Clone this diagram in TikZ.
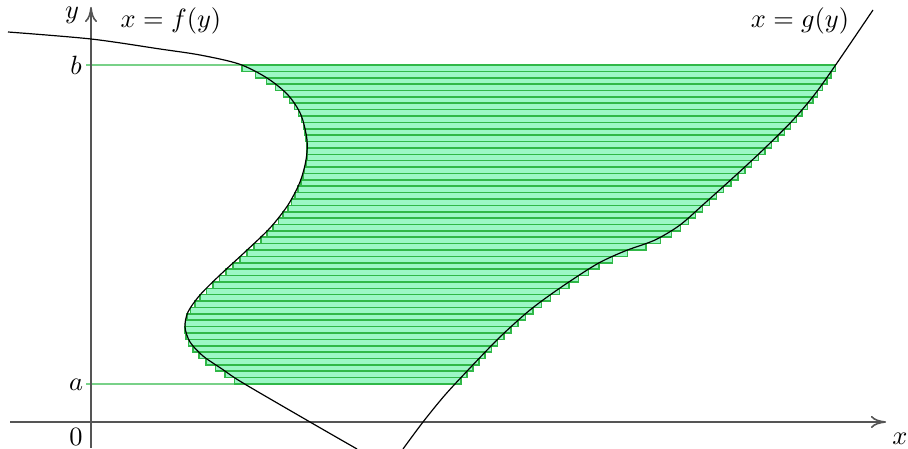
\documentclass[tikz,border=0pt]{standalone}
\usepackage{tikz}
\usetikzlibrary{arrows.meta, intersections, calc, backgrounds}
\definecolor{stripfill}{HTML}{9CF7C6}
\definecolor{stripline}{HTML}{30B848}
\definecolor{axisgray}{HTML}{555555}
\tikzset{
  axis/.style={draw=axisgray, line width=0.6pt, -{To[length=2mm, width=1.6mm]}},
  curve/.style={draw=black, line width=0.45pt},
  strip/.style={draw=stripline, fill=stripfill, line width=0.6pt},
  level/.style={draw=stripline, line width=0.5pt},
}

\begin{document}
\begin{tikzpicture}[x=0.0133cm, y=-0.0133cm]
  \useasboundingbox (0,0) rectangle (908,449);

  % axes
  \coordinate (xstart) at (10,422);
  \coordinate (xend) at (886,422);
  \coordinate (ystart) at (91,448);
  \coordinate (yend) at (91,7);
  \draw[axis] (xstart) -- (xend);
  \draw[axis] (ystart) -- (yend);

  % the two boundary curves
  \draw[curve, name path=fcurve] plot[smooth] coordinates {(8,32) (91,39) (160,49) (200,55) (239,64) (267,78) (288,95) (301,115) (307,140) (306,160) (300,182) (288,205) (270,228) (245,252) (220,275) (200,295) (188,312) (185,327) (190,342) (203,356) (222,369) (243,383) (310,422) (357,449)};
  \draw[curve, name path=gcurve] plot[smooth] coordinates {(403,449) (423,422) (445,395) (470,368) (500,337) (530,310) (560,288) (597,264) (625,251) (655,240) (680,225) (705,203) (735,176) (765,148) (793,120) (815,94) (837,63) (873,10)};

  % horizontal strips from a to b
  \begin{scope}[on background layer]
    \foreach \i in {0,...,49} {
      \pgfmathsetmacro{\yt}{65+\i*6.38}
      \path[name path=cut] (0,\yt) -- (908,\yt);
      \path[name intersections={of=fcurve and cut, by=L}];
      \path[name intersections={of=gcurve and cut, by=R}];
      \draw[strip] (L) rectangle ($(R)+(0,6.38)$);
    }
    \path[name path=blevel] (0,65) -- (908,65);
    \path[name path=alevel] (0,384) -- (908,384);
    \path[name intersections={of=fcurve and blevel, by=fb}];
    \path[name intersections={of=fcurve and alevel, by=fa}];
    \coordinate (btick) at (86,65);
    \coordinate (atick) at (86,384);
    \draw[level] (btick) -- (fb);
    \draw[level] (atick) -- (fa);
  \end{scope}

  % labels
  \node (ylabel) at (72,15) {$y$};
  \node (xlabel) at (900,439) {$x$};
  \node (origin) at (76,437) {$0$};
  \node (blabel) at (76,65) {$b$};
  \node (alabel) at (76,385) {$a$};
  \node (flabel) at (171,21) {$x = f(y)$};
  \node (glabel) at (800,21) {$x = g(y)$};
\end{tikzpicture}
\end{document}
